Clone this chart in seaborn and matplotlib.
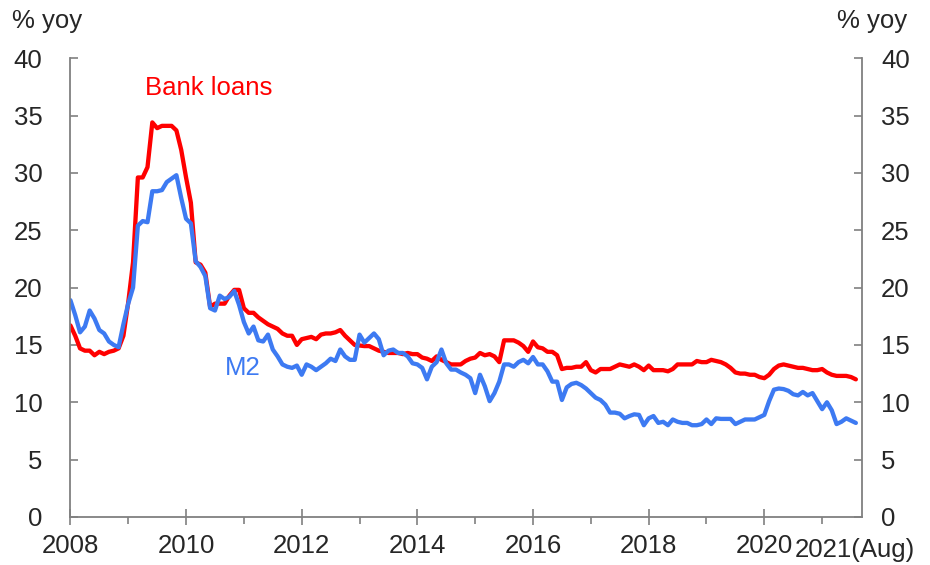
import numpy as np
import pandas as pd
import matplotlib
matplotlib.use("Agg")
import matplotlib.pyplot as plt
import matplotlib.transforms as mtransforms
import seaborn as sns

# ── data: monthly % yoy, Jan 2008 .. Aug 2021 ───────────────────────────
START = "2008-01"
bank_loans = [
    16.7, 15.8, 14.7, 14.5, 14.5, 14.1, 14.4, 14.2, 14.4, 14.5, 14.7, 15.8,
    18.7, 22.2, 29.6, 29.6, 30.5, 34.4, 33.9, 34.1, 34.1, 34.1, 33.7, 32.0,
    29.6, 27.4, 22.2, 22.0, 21.3, 18.3, 18.6, 18.6, 18.6, 19.3, 19.8, 19.8,
    18.2, 17.8, 17.8, 17.4, 17.1, 16.8, 16.6, 16.4, 16.0, 15.8, 15.8, 15.0,
    15.5, 15.6, 15.7, 15.5, 15.9, 16.0, 16.0, 16.1, 16.3, 15.8, 15.4, 15.0,
    14.95, 14.9, 14.9, 14.7, 14.5, 14.4, 14.3, 14.3, 14.3, 14.2, 14.3, 14.2,
    14.2, 13.9, 13.8, 13.6, 14.0, 13.7, 13.5, 13.3, 13.3, 13.3, 13.6, 13.8,
    13.9, 14.3, 14.1, 14.2, 14.0, 13.5, 15.4, 15.4, 15.4, 15.2, 14.9, 14.4,
    15.3, 14.8, 14.7, 14.4, 14.4, 14.1, 12.9, 13.0, 13.0, 13.1, 13.1, 13.5,
    12.8, 12.6, 12.9, 12.9, 12.9, 13.1, 13.3, 13.2, 13.1, 13.3, 13.1, 12.8,
    13.2, 12.8, 12.8, 12.8, 12.7, 12.9, 13.3, 13.3, 13.3, 13.3, 13.6, 13.5,
    13.5, 13.7, 13.6, 13.5, 13.3, 13.0, 12.6, 12.5, 12.5, 12.4, 12.4, 12.2,
    12.1, 12.4, 12.9, 13.2, 13.3, 13.2, 13.1, 13.0, 13.0, 12.9, 12.8, 12.8,
    12.9, 12.6, 12.4, 12.3, 12.3, 12.3, 12.2, 12.0,
]
m2 = [
    18.9, 17.6, 16.1, 16.6, 18.0, 17.3, 16.3, 16.0, 15.3, 15.0, 14.8, 16.8,
    18.6, 20.0, 25.4, 25.8, 25.7, 28.4, 28.4, 28.5, 29.2, 29.5, 29.8, 27.8,
    26.0, 25.6, 22.3, 21.8, 21.0, 18.2, 18.0, 19.3, 19.0, 19.2, 19.7, 18.5,
    17.0, 16.0, 16.6, 15.4, 15.3, 15.9, 14.6, 14.0, 13.3, 13.1, 13.0, 13.2,
    12.4, 13.3, 13.1, 12.8, 13.1, 13.4, 13.8, 13.6, 14.6, 14.0, 13.7, 13.7,
    15.9, 15.2, 15.6, 16.0, 15.5, 14.1, 14.5, 14.6, 14.3, 14.3, 14.0, 13.4,
    13.3, 13.0, 12.0, 13.1, 13.5, 14.6, 13.4, 12.85, 12.85, 12.6, 12.4, 12.1,
    10.8, 12.4, 11.4, 10.1, 10.8, 11.8, 13.3, 13.3, 13.1, 13.5, 13.7, 13.4,
    13.95, 13.3, 13.3, 12.7, 11.8, 11.8, 10.2, 11.3, 11.6, 11.7, 11.5, 11.2,
    10.8, 10.4, 10.2, 9.8, 9.1, 9.1, 9.0, 8.6, 8.8, 8.95, 8.9, 8.0,
    8.6, 8.8, 8.2, 8.3, 8.0, 8.5, 8.3, 8.2, 8.2, 8.0, 8.0, 8.1,
    8.5, 8.1, 8.6, 8.55, 8.55, 8.55, 8.1, 8.3, 8.5, 8.5, 8.5, 8.7,
    8.9, 10.1, 11.1, 11.2, 11.15, 11.0, 10.7, 10.6, 10.9, 10.6, 10.8, 10.1,
    9.4, 10.0, 9.3, 8.1, 8.3, 8.6, 8.4, 8.2,
]
series_names = ["Bank loans", "M2"]
colors = {"Bank loans": "#FF0000", "M2": "#3D7AF2"}
major_years = [2008, 2010, 2012, 2014, 2016, 2018, 2020]
minor_years = [2009, 2011, 2013, 2015, 2017, 2019, 2021]
y_ticks = [0, 5, 10, 15, 20, 25, 30, 35, 40]

# ── long-format frame for seaborn ──────────────────────────────────────
dates = pd.date_range(START, periods=len(bank_loans), freq="MS")
t = dates.year + (dates.month - 1) / 12
n = len(t)
df = pd.DataFrame({
    "t": np.concatenate([t, t]),
    "value": bank_loans + m2,
    "series": [series_names[0]] * n + [series_names[1]] * n,
})

sns.set_theme(style="white")
plt.rcParams["font.family"] = ["Liberation Sans", "DejaVu Sans"]
FS = 18.5
GREY = "#808080"

fig, ax = plt.subplots(figsize=(9.3, 5.65), dpi=100)
fig.subplots_adjust(left=0.0757, right=0.9265, bottom=0.085, top=0.897)

sns.lineplot(data=df, x="t", y="value", hue="series", palette=colors,
             linewidth=3.1, ax=ax, legend=False)

ax.set_xlim(2008, 2008 + 164.2 / 12)
ax.set_ylim(0, 40)
ax.set_xlabel(""); ax.set_ylabel("")

# spines
ax.spines["top"].set_visible(False)
for s in ["left", "right", "bottom"]:
    ax.spines[s].set_color(GREY)
    ax.spines[s].set_linewidth(1.3)

# x ticks
ax.set_xticks(major_years)
ax.set_xticklabels([str(y) for y in major_years])
ax.set_xticks(minor_years, minor=True)
ax.tick_params(axis="x", which="major", direction="inout", length=12,
               width=1.2, color=GREY, labelsize=FS, pad=6, bottom=True)
ax.tick_params(axis="x", which="minor", direction="out", length=5,
               width=1.2, color=GREY, bottom=True)
trans = mtransforms.blended_transform_factory(ax.transData, ax.transAxes)
ax.text(2021 - 0.47, -0.045, "2021(Aug)", transform=trans, ha="left",
        va="top", fontsize=FS)

# y ticks, both sides
ax.set_yticks(y_ticks)
ax.tick_params(axis="y", direction="in", length=6, width=1.2, color=GREY,
               labelsize=FS, pad=20, left=True)
ax2 = ax.twinx()
ax2.set_ylim(ax.get_ylim())
ax2.set_yticks(y_ticks)
ax2.tick_params(axis="y", direction="in", length=6, width=1.2, color=GREY,
                labelsize=FS, pad=14, right=True)
for s in ax2.spines.values():
    s.set_visible(False)
ax2.grid(False)

# axis unit labels
fig.text(0.013, 0.962, "% yoy", fontsize=FS, va="center", ha="left")
fig.text(0.900, 0.962, "% yoy", fontsize=FS, va="center", ha="left")

# series labels
ax.text(2009.29, 37.4, "Bank loans", color=colors["Bank loans"],
        fontsize=FS, va="center", ha="left")
ax.text(2010.67, 13.0, "M2", color=colors["M2"], fontsize=FS,
        va="center", ha="left")

fig.savefig("out.png", dpi=100)
